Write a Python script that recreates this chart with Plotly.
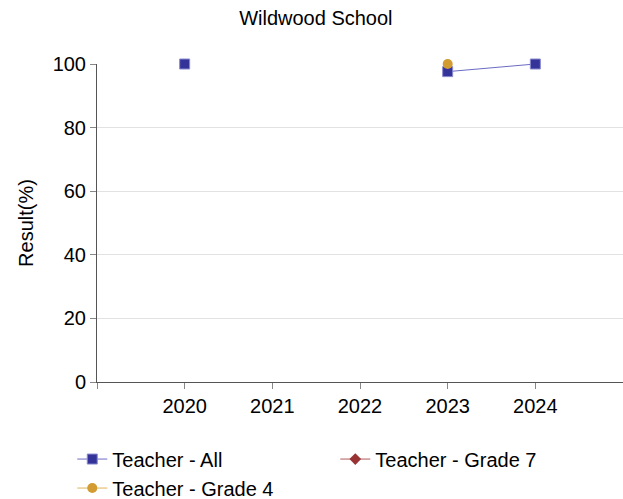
import plotly.graph_objects as go

years = [2020, 2021, 2022, 2023, 2024]
teacher_all = [100, None, None, 97.6, 100]
teacher_grade7 = [None, None, None, None, None]
teacher_grade4 = [None, None, None, 100, None]
tick_vals = [2019, 2020, 2021, 2022, 2023, 2024]
tick_text = ["", "2020", "2021", "2022", "2023", "2024"]
y_ticks = [0, 20, 40, 60, 80, 100]

FONT = "Liberation Sans, Arial, sans-serif"
FS = 20

fig = go.Figure()
fig.add_trace(go.Scatter(
    x=years, y=teacher_all, name="Teacher - All", mode="lines+markers",
    line=dict(color="#6b6bc4", width=1),
    marker=dict(symbol="square", size=10, color="#333399",
                line=dict(color="#8a8ad0", width=1)),
    connectgaps=False, cliponaxis=False))
fig.add_trace(go.Scatter(
    x=years, y=teacher_grade7, name="Teacher - Grade 7", mode="lines+markers",
    line=dict(color="#b05a5a", width=1),
    marker=dict(symbol="diamond", size=9, color="#993333"),
    cliponaxis=False))
fig.add_trace(go.Scatter(
    x=years, y=teacher_grade4, name="Teacher - Grade 4", mode="lines+markers",
    line=dict(color="#e0b25a", width=1),
    marker=dict(symbol="circle", size=10, color="#d29c32"),
    cliponaxis=False))

fig.update_layout(
    width=623, height=499,
    margin=dict(l=97, r=0, t=64, b=117, autoexpand=False),
    paper_bgcolor="white", plot_bgcolor="white",
    font=dict(family=FONT, size=FS, color="#000000"),
    title=dict(text="Wildwood School", x=0.507, xanchor="center", y=0.963, yanchor="middle",
               font=dict(family=FONT, size=FS, color="#000000")),
    hovermode=False,
    showlegend=True,
    legend=dict(orientation="h", x=-0.047, xanchor="left", y=-0.181, yanchor="top",
                entrywidth=218, entrywidthmode="pixels",
                font=dict(family=FONT, size=FS, color="#000000"),
                tracegroupgap=0, traceorder="normal"),
    xaxis=dict(range=[2019, 2025], tickmode="array", tickvals=tick_vals, ticktext=tick_text,
               showgrid=False, zeroline=False, showline=True, linecolor="#555555", linewidth=1,
               ticks="outside", ticklen=6, tickcolor="#888888", automargin=False,
               tickfont=dict(family=FONT, size=FS, color="#000000"), fixedrange=True),
    yaxis=dict(range=[0, 100], tickmode="array", tickvals=y_ticks,
               showgrid=True, gridcolor="#e2e2e2", gridwidth=1, zeroline=False,
               showline=True, linecolor="#555555", linewidth=1, automargin=False,
               ticks="outside", ticklen=6, tickcolor="#888888",
               title=dict(text="Result(%)", font=dict(family=FONT, size=FS, color="#000000"), standoff=13),
               tickfont=dict(family=FONT, size=FS, color="#000000"), fixedrange=True),
)

fig.write_html("out.html", config={"displayModeBar": False},
               post_script="document.body.style.margin='0px';document.body.style.overflow='hidden';")
